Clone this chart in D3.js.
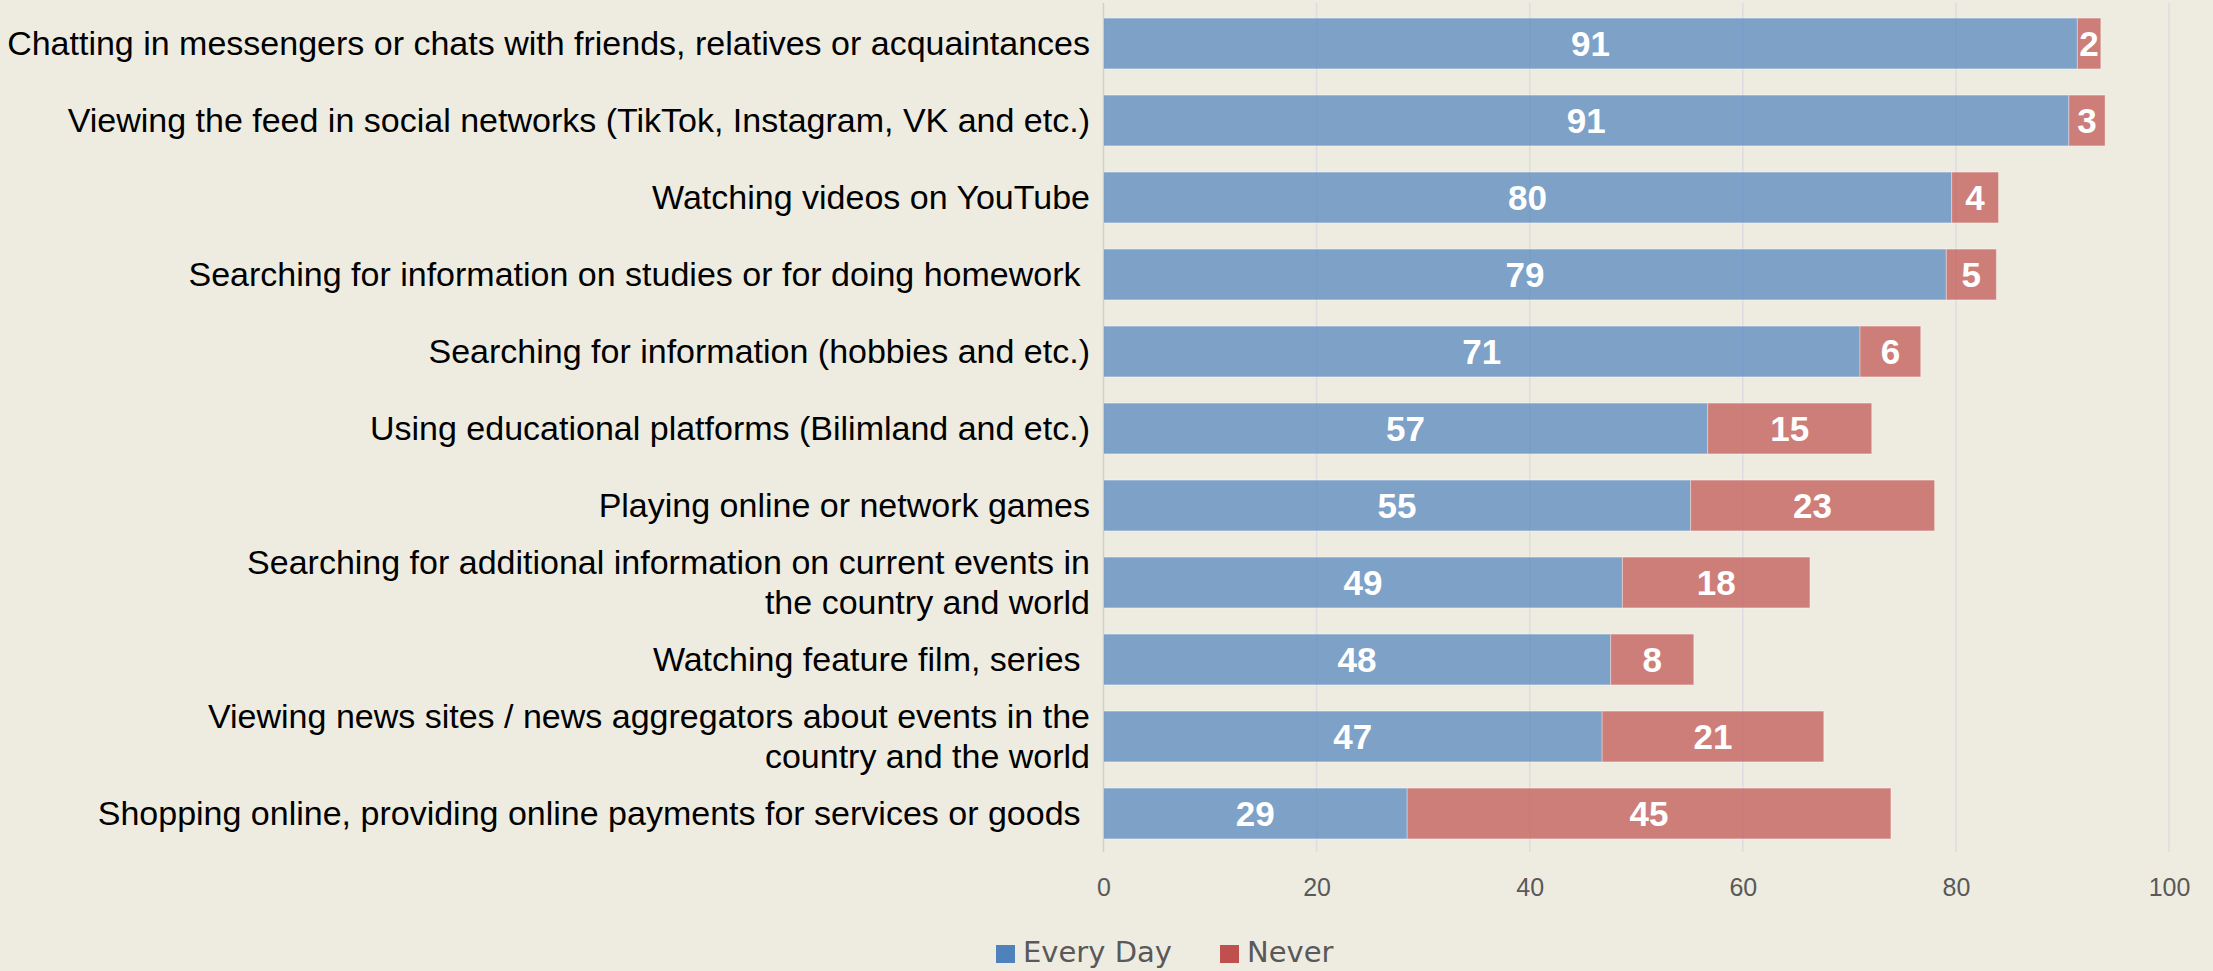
<!DOCTYPE html>
<html>
<head>
<meta charset="utf-8">
<script src="https://cdn.jsdelivr.net/npm/d3@7"></script>
<style>
  html, body { margin: 0; padding: 0; background: #EEECE1; }
  svg { display: block; }
  .cat { white-space: pre; }
</style>
</head>
<body>
<script>
// categories, top to bottom (multi-line labels split with |)
const categories = [
  "Chatting in messengers or chats with friends, relatives or acquaintances",
  "Viewing the feed in social networks (TikTok, Instagram, VK and etc.)",
  "Watching videos on YouTube",
  "Searching for information on studies or for doing homework ",
  "Searching for information (hobbies and etc.)",
  "Using educational platforms (Bilimland and etc.)",
  "Playing online or network games",
  "Searching for additional information on current events in|the country and world",
  "Watching feature film, series ",
  "Viewing news sites / news aggregators about events in the|country and the world",
  "Shopping online, providing online payments for services or goods "
]
const everyDay = [91.4, 90.6, 79.6, 79.1, 71.0, 56.7, 55.1, 48.7, 47.6, 46.8, 28.5]
const never = [2.2, 3.4, 4.4, 4.7, 5.7, 15.4, 22.9, 17.6, 7.8, 20.8, 45.4]
const seriesNames = ["Every Day", "Never"]
const seriesColors = ["#4F81BD", "#C0504D"]
const xTicks = [0, 20, 40, 60, 80, 100]

const W = 2213, H = 971

const svg = d3.select("body").append("svg")
    .attr("width", W)
    .attr("height", H)

svg.append("rect").attr("width", W).attr("height", H).attr("fill", "#EEECE1")

const x = d3.scaleLinear().domain([0, 100]).range([1103.5, 2169])
const y = d3.scaleBand().domain(categories).range([5, 852])
    .paddingInner(0.34).paddingOuter(0.17)

// gridlines
svg.append("g").selectAll("line").data(xTicks).join("line")
    .attr("x1", d => x(d)).attr("x2", d => x(d))
    .attr("y1", 3).attr("y2", 852)
    .attr("stroke", d => d === 0 ? "#cfcfcf" : "#dcdce2")
    .attr("stroke-width", 1.5)

// stacked bars
const rows = categories.map((c, i) => ({ cat: c, vals: [everyDay[i], never[i]] }))

const bars = svg.append("g")
rows.forEach(r => {
  let start = 0
  r.vals.forEach((v, j) => {
    bars.append("rect")
        .attr("x", x(start))
        .attr("y", y(r.cat))
        .attr("width", x(start + v) - x(start))
        .attr("height", y.bandwidth())
        .attr("fill", seriesColors[j])
        .attr("fill-opacity", 0.7)
        .attr("stroke", "#ffffff")
        .attr("stroke-opacity", 0.35)
        .attr("stroke-width", 1)
    bars.append("text")
        .attr("x", x(start + v / 2))
        .attr("y", y(r.cat) + y.bandwidth() / 2)
        .attr("dy", "0.36em")
        .attr("text-anchor", "middle")
        .attr("font-family", "Liberation Sans, Arial, sans-serif")
        .attr("font-weight", "bold")
        .attr("font-size", 35)
        .attr("fill", "#ffffff")
        .text(Math.round(v))
    start += v
  })
})

// category labels
const labels = svg.append("g")
    .attr("font-family", "Liberation Sans, Arial, sans-serif")
    .attr("font-size", 34)
    .attr("fill", "#000")
    .attr("text-anchor", "end")
categories.forEach(c => {
  const lines = c.split("|")
  const cy = y(c) + y.bandwidth() / 2
  lines.forEach((ln, k) => {
    labels.append("text")
        .attr("class", "cat")
        .attr("x", 1090)
        .attr("y", cy + (k - (lines.length - 1) / 2) * 40)
        .attr("dy", "0.35em")
        .text(ln)
  })
})

// x axis
const axis = svg.append("g")
    .attr("transform", "translate(0,852)")
    .call(d3.axisBottom(x).tickValues(xTicks).tickSize(0).tickPadding(26))
axis.select(".domain").remove()
axis.selectAll("text")
    .attr("font-family", "Liberation Sans, Arial, sans-serif")
    .attr("font-size", 25)
    .attr("fill", "#595959")

// legend
const legend = svg.append("g")
const legendX = [996, 1220]
seriesNames.forEach((s, i) => {
  legend.append("rect")
      .attr("x", legendX[i]).attr("y", 945)
      .attr("width", 19).attr("height", 18)
      .attr("fill", seriesColors[i])
  legend.append("text")
      .attr("x", legendX[i] + 27).attr("y", 962)
      .attr("font-family", "DejaVu Sans, Verdana, sans-serif")
      .attr("font-size", 29)
      .attr("fill", "#595959")
      .text(s)
})
</script>
</body>
</html>
